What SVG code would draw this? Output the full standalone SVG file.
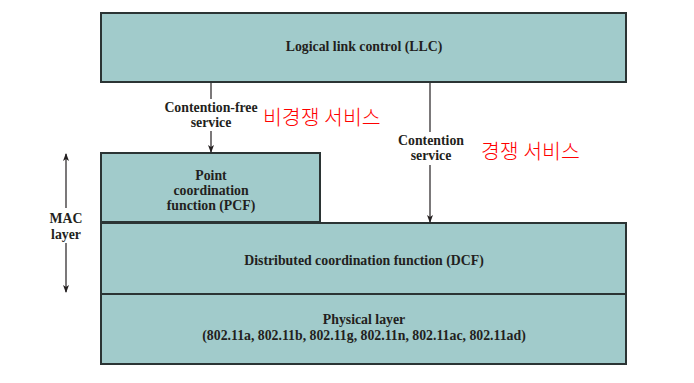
<svg xmlns="http://www.w3.org/2000/svg" width="694" height="383" viewBox="0 0 694 383">
<style>
.box{fill:#a1cbcb;stroke:#2b3434;stroke-width:2}
.t{font-family:"Liberation Serif",serif;font-weight:bold;font-size:13.8px;fill:#231f20;text-anchor:middle}
.k{font-family:"Noto Sans CJK KR",sans-serif;font-size:20.5px;font-weight:300;fill:#ff0000}
.ln{stroke:#231f20;stroke-width:1.2;fill:none}
</style>
<defs>
<marker id="ah" markerWidth="8" markerHeight="10" refX="7" refY="5" orient="auto" markerUnits="userSpaceOnUse">
<path d="M0,2 L8,5 L0,8 L2,5 Z" fill="#231f20"/>
</marker>
</defs>
<rect width="694" height="383" fill="#fff"/>
<g id="llc"><rect class="box" x="101" y="13" width="525" height="69"/><text class="t" x="364" y="51">Logical link control (LLC)</text></g>
<g id="pcf"><rect class="box" x="101" y="153" width="219" height="69"/>
<text class="t" x="211" y="180">Point</text><text class="t" x="211" y="195">coordination</text><text class="t" x="211" y="210">function (PCF)</text></g>
<g id="dcf"><rect class="box" x="101" y="223" width="525" height="71"/><text class="t" x="364" y="265">Distributed coordination function (DCF)</text></g>
<g id="phy"><rect class="box" x="101" y="294" width="525" height="70"/>
<text class="t" x="364" y="324">Physical layer</text><text class="t" x="364" y="340">(802.11a, 802.11b, 802.11g, 802.11n, 802.11ac, 802.11ad)</text></g>
<g id="connectors">
<line class="ln" x1="211" y1="83" x2="211" y2="99"/>
<line class="ln" x1="211" y1="131" x2="211" y2="152" marker-end="url(#ah)"/>
<line class="ln" x1="430" y1="83" x2="430" y2="132"/>
<line class="ln" x1="430" y1="165" x2="430" y2="222" marker-end="url(#ah)"/>
<line class="ln" x1="66" y1="208" x2="66" y2="154" marker-end="url(#ah)"/>
<line class="ln" x1="66" y1="243" x2="66" y2="292" marker-end="url(#ah)"/>
</g>
<g id="labels">
<text class="t" x="211" y="112">Contention-free</text><text class="t" x="211" y="127">service</text>
<text class="t" x="431" y="145">Contention</text><text class="t" x="431" y="160">service</text>
<text class="t" x="66" y="223">MAC</text><text class="t" x="66" y="239">layer</text>
<text class="k" x="263" y="125">비경쟁 서비스</text>
<text class="k" x="481" y="159">경쟁 서비스</text>
</g>
</svg>
